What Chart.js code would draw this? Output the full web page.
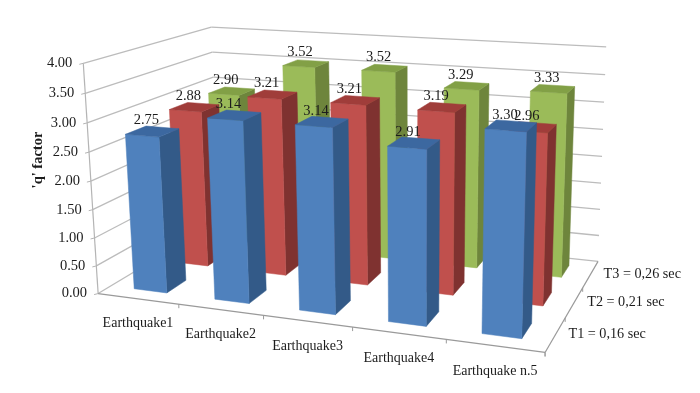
<!DOCTYPE html>
<html>
<head>
<meta charset="utf-8">
<style>
  html, body { margin: 0; padding: 0; background: #fff; }
  #wrap { width: 700px; height: 393px; }
</style>
<script src="https://cdn.jsdelivr.net/npm/chart.js@4/dist/chart.umd.min.js"></script>
</head>
<body>
<div id="wrap"><canvas id="chart" width="700" height="393"></canvas></div>
<script>
const categories = ["Earthquake1", "Earthquake2", "Earthquake3", "Earthquake4", "Earthquake n.5"];
const periods = ["T1 = 0,16 sec", "T2 = 0,21 sec", "T3 = 0,26 sec"];
const t1Values = [2.75, 3.14, 3.14, 2.91, 3.30];
const t2Values = [2.88, 3.21, 3.21, 3.19, 2.96];
const t3Values = [2.90, 3.52, 3.52, 3.29, 3.33];
const yTitle = "'q' factor";

// [front, side, top] for each series
const blue = ["#4f81bd", "#335a88", "#3c68a0"];
const red = ["#c0504d", "#7f3230", "#a03d3a"];
const green = ["#9bbb59", "#6e853c", "#82a046"];

const UFRAC = 0.41;   // bar width inside a category slot
const VFRAC = 0.45;   // bar depth inside a period slot
const SERIF = '"Liberation Serif", serif';

// Used to fit the camera, the bars themselves come from the scales.
const frameFit = [
  [0, 0, 0, 98, 293], [1, 0, 0, 545, 352], [1, 1, 0, 598, 261], [0, 1, 0, 220, 221],
  [0, 0, 1, 85, 63], [1, 1, 1, 607, 47], [0, 1, 1, 210, 27],
  [0.2, 0, 0, 179, 305], [0.4, 0, 0, 263, 316], [0.6, 0, 0, 352, 328], [0.8, 0, 0, 446, 339],
  [1, 1 / 3, 0, 566, 317], [1, 2 / 3, 0, 583, 288],
  [0, 0, 0.5, 90, 181], [1, 1, 0.5, 601, 157],
];

function solve(A, b) {
  const n = b.length;
  for (let i = 0; i < n; i++) {
    let p = i;
    for (let r = i + 1; r < n; r++) if (Math.abs(A[r][i]) > Math.abs(A[p][i])) p = r;
    [A[i], A[p]] = [A[p], A[i]];
    [b[i], b[p]] = [b[p], b[i]];
    for (let r = i + 1; r < n; r++) {
      const f = A[r][i] / A[i][i];
      for (let c = i; c < n; c++) A[r][c] -= f * A[i][c];
      b[r] -= f * b[i];
    }
  }
  const x = new Array(n).fill(0);
  for (let i = n - 1; i >= 0; i--) {
    let s = b[i];
    for (let c = i + 1; c < n; c++) s -= A[i][c] * x[c];
    x[i] = s / A[i][i];
  }
  return x;
}

function fitCamera(pts) {
  // least squares on the usual projective equations
  const N = Array.from({ length: 11 }, () => new Array(11).fill(0));
  const t = new Array(11).fill(0);
  const add = (row, rhs) => {
    for (let i = 0; i < 11; i++) {
      t[i] += row[i] * rhs;
      for (let j = 0; j < 11; j++) N[i][j] += row[i] * row[j];
    }
  };
  for (const [u, v, h, px, py] of pts) {
    add([u, v, h, 1, 0, 0, 0, 0, -px * u, -px * v, -px * h], px);
    add([0, 0, 0, 0, u, v, h, 1, -py * u, -py * v, -py * h], py);
  }
  return solve(N, t);
}

const cam = fitCamera(frameFit);
const project = (u, v, h) => {
  const w = cam[8] * u + cam[9] * v + cam[10] * h + 1;
  return [
    (cam[0] * u + cam[1] * v + cam[2] * h + cam[3]) / w,
    (cam[4] * u + cam[5] * v + cam[6] * h + cam[7]) / w,
  ];
};

const fracX = (s, i) => (s.getPixelForValue(i) - s.left) / s.width;
const fracH = (s, val) => (s.bottom - s.getPixelForValue(val)) / s.height;

function poly(ctx, pts, fill) {
  ctx.beginPath();
  pts.forEach((p, i) => (i ? ctx.lineTo(p[0], p[1]) : ctx.moveTo(p[0], p[1])));
  ctx.closePath();
  ctx.fillStyle = fill;
  ctx.fill();
  ctx.strokeStyle = fill;
  ctx.lineWidth = 0.5;
  ctx.stroke();
}

function line(ctx, a, b, color, width) {
  ctx.beginPath();
  ctx.moveTo(a[0], a[1]);
  ctx.lineTo(b[0], b[1]);
  ctx.strokeStyle = color;
  ctx.lineWidth = width;
  ctx.stroke();
}

const box3d = {
  id: "box3d",
  afterDatasetsDraw(chart) {
    const { ctx, scales } = chart;
    const { x, y, z } = scales;
    const du = (x.getPixelForValue(1) - x.getPixelForValue(0)) / x.width;
    const dv = (z.getPixelForValue(1) - z.getPixelForValue(0)) / z.width;
    ctx.save();

    // walls
    y.ticks.forEach((tick) => {
      const h = fracH(y, tick.value);
      const p = project(0, 0, h);
      line(ctx, p, project(0, 1, h), "#bcbcbc", 1.3);
      line(ctx, project(0, 1, h), project(1, 1, h), "#bcbcbc", 1.3);
      line(ctx, [p[0] - 4, p[1] + 1], p, "#b4b4b4", 1);
    });
    line(ctx, project(0, 0, 0), project(0, 0, 1), "#b4b4b4", 1.2);

    // floor axes
    line(ctx, project(0, 0, 0), project(1, 0, 0), "#9a9a9a", 1.2);
    line(ctx, project(1, 0, 0), project(1, 1, 0), "#9a9a9a", 1.2);
    categories.forEach((c, i) => {
      const p = project((i + 1) / categories.length, 0, 0);
      line(ctx, p, [p[0], p[1] + 4], "#9a9a9a", 1);
    });
    periods.forEach((c, j) => {
      const p = project(1, j / periods.length, 0);
      line(ctx, p, [p[0], p[1] + 4], "#9a9a9a", 1);
    });

    // bars, back row first
    const labels = [];
    for (let d = chart.data.datasets.length - 1; d >= 0; d--) {
      const ds = chart.data.datasets[d];
      const v0 = fracX(z, d) - (dv * VFRAC) / 2;
      const v1 = fracX(z, d) + (dv * VFRAC) / 2;
      ds.data.forEach((val, i) => {
        const u0 = fracX(x, i) - (du * UFRAC) / 2;
        const u1 = fracX(x, i) + (du * UFRAC) / 2;
        const h = fracH(y, val);
        poly(ctx, [project(u1, v0, 0), project(u1, v1, 0), project(u1, v1, h), project(u1, v0, h)], ds.faces[1]);
        poly(ctx, [project(u0, v0, 0), project(u1, v0, 0), project(u1, v0, h), project(u0, v0, h)], ds.faces[0]);
        poly(ctx, [project(u0, v0, h), project(u1, v0, h), project(u1, v1, h), project(u0, v1, h)], ds.faces[2]);
        const top = project(fracX(x, i), fracX(z, d), h);
        labels.push([val.toFixed(2), top[0] - 6, top[1] - 11]);
      });
    }

    // text
    ctx.fillStyle = "#1c1c1c";
    ctx.textBaseline = "middle";
    ctx.font = "14.5px " + SERIF;
    ctx.textAlign = "center";
    labels.forEach((l) => ctx.fillText(l[0], l[1], l[2]));

    ctx.textAlign = "right";
    y.ticks.forEach((tick) => {
      const p = project(0, 0, fracH(y, tick.value));
      ctx.fillText(tick.label, p[0] - 11, p[1]);
    });

    ctx.font = "14px " + SERIF;
    ctx.textAlign = "center";
    x.getLabels().forEach((c, i) => {
      const p = project(fracX(x, i), 0, 0);
      ctx.fillText(c, p[0], p[1] + 25);
    });

    ctx.font = "14.2px " + SERIF;
    ctx.textAlign = "left";
    z.getLabels().forEach((c, j) => {
      const p = project(1, fracX(z, j), 0);
      ctx.fillText(c, p[0] + 13, p[1]);
    });

    ctx.translate(38, 160);
    ctx.rotate(-Math.PI / 2);
    ctx.font = "bold 14.5px " + SERIF;
    ctx.textAlign = "center";
    ctx.fillText(yTitle, 0, 0);
    ctx.restore();
  },
};

new Chart(document.getElementById("chart"), {
  type: "bar",
  data: {
    labels: categories,
    datasets: [
      { label: periods[0], data: t1Values, faces: blue, backgroundColor: "transparent" },
      { label: periods[1], data: t2Values, faces: red, backgroundColor: "transparent" },
      { label: periods[2], data: t3Values, faces: green, backgroundColor: "transparent" },
    ],
  },
  options: {
    responsive: false,
    animation: false,
    layout: { padding: 0 },
    plugins: { legend: { display: false }, tooltip: { enabled: false } },
    scales: {
      x: { display: false, offset: true },
      z: { type: "category", axis: "x", labels: periods, display: false, offset: true },
      y: {
        display: false,
        min: 0,
        max: 4,
        ticks: { stepSize: 0.5, callback: (v) => v.toFixed(2) },
      },
    },
  },
  plugins: [box3d],
});
</script>
</body>
</html>
